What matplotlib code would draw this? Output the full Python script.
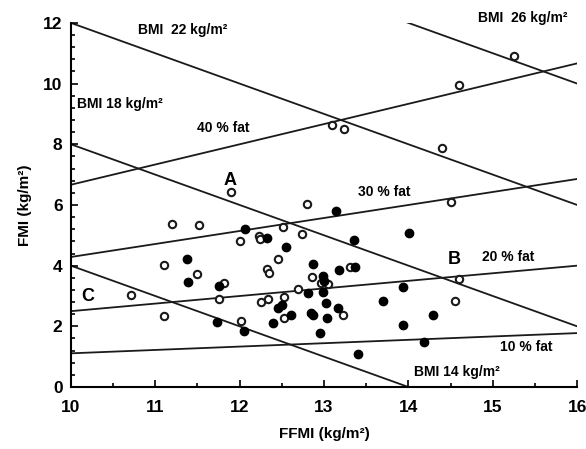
import matplotlib
matplotlib.use("Agg")
import matplotlib.pyplot as plt
import numpy as np
from matplotlib.ticker import MultipleLocator

plt.rcParams['font.family'] = ['Liberation Sans', 'DejaVu Sans']
plt.rcParams['font.weight'] = 'bold'

# Reference lines
bmi_levels = [14, 18, 22, 26]
fat_pcts = [10, 20, 30, 40]

# Open circles (FFMI, FMI)
open_ffmi = [15.25, 14.60, 14.40, 14.51, 14.60, 14.55, 13.10, 13.24, 11.90, 12.80,
             11.20, 11.52, 11.10, 11.50, 11.81, 10.71, 11.10, 11.76, 12.51, 12.74,
             12.00, 12.23, 12.24, 12.46, 12.32, 12.35, 13.31, 12.86, 12.96, 13.05,
             12.69, 12.25, 12.33, 12.52, 13.23, 12.52, 12.02]
open_fmi = [10.91, 9.96, 7.88, 6.10, 3.56, 2.84, 8.64, 8.51, 6.43, 6.03,
            5.37, 5.34, 4.02, 3.73, 3.43, 3.03, 2.34, 2.90, 5.28, 5.04,
            4.81, 4.98, 4.88, 4.22, 3.89, 3.76, 3.96, 3.63, 3.43, 3.40,
            3.23, 2.80, 2.90, 2.97, 2.37, 2.27, 2.18]

# Filled circles (FFMI, FMI)
filled_ffmi = [11.37, 11.39, 11.75, 11.73, 13.14, 12.06, 12.32, 13.36, 12.55, 12.87,
               13.18, 13.37, 12.99, 13.00, 12.81, 12.99, 14.01, 13.93, 13.70, 14.29,
               13.94, 12.46, 12.50, 12.61, 12.85, 12.87, 13.04, 13.17, 12.40, 13.02,
               12.95, 12.05, 13.40, 14.19]
filled_fmi = [4.22, 3.46, 3.33, 2.14, 5.80, 5.21, 4.91, 4.85, 4.62, 4.06,
              3.86, 3.96, 3.66, 3.49, 3.10, 3.13, 5.08, 3.30, 2.84, 2.37,
              2.04, 2.60, 2.70, 2.37, 2.44, 2.37, 2.27, 2.60, 2.11, 2.77,
              1.78, 1.85, 1.09, 1.48]

fig = plt.figure(figsize=(5.86, 4.49), dpi=100)
ax = fig.add_axes([0.121, 0.138, 0.864, 0.811])

xs = np.linspace(10, 16, 200)
for b in bmi_levels:
    ax.plot(xs, b - xs, color='#1a1a1a', lw=1.3, zorder=1)
for p in fat_pcts:
    f = p / 100.0
    ax.plot(xs, f / (1 - f) * xs, color='#1a1a1a', lw=1.3, zorder=1)

ax.plot(open_ffmi, open_fmi, 'o', ms=5.3, mfc='white', mec='#1a1a1a', mew=1.5, zorder=3)
ax.plot(filled_ffmi, filled_fmi, 'o', ms=6.0, mfc='black', mec='black', zorder=3)

ax.set_xlim(10, 16)
ax.set_ylim(0, 12)
ax.xaxis.set_major_locator(MultipleLocator(1))
ax.xaxis.set_minor_locator(MultipleLocator(0.5))
ax.yaxis.set_major_locator(MultipleLocator(2))
ax.yaxis.set_minor_locator(MultipleLocator(0.4))
ax.tick_params(which='both', direction='in', width=1.2)
ax.tick_params(which='major', length=5, labelsize=12.5)
ax.tick_params(which='minor', length=3)
ax.tick_params(axis='x', which='major', pad=9)
ax.tick_params(axis='y', which='major', pad=6)
for lab in ax.get_xticklabels() + ax.get_yticklabels():
    lab.set_fontweight('bold')
for s in ['top', 'right']:
    ax.spines[s].set_visible(False)
for s in ['left', 'bottom']:
    ax.spines[s].set_linewidth(1.5)

ax.set_xlabel('FFMI (kg/m²)', fontsize=11, fontweight='bold', labelpad=9)
ax.set_ylabel('FMI (kg/m²)', fontsize=11, fontweight='bold', labelpad=8)

tk = dict(fontsize=10, fontweight='bold', va='center', ha='left')
ax.text(10.79, 11.78, 'BMI  22 kg/m²', **tk)
ax.text(14.82, 12.15, 'BMI  26 kg/m²', clip_on=False, **tk)
ax.text(10.07, 9.33, 'BMI 18 kg/m²', **tk)
ax.text(11.5, 8.54, '40 % fat', **tk)
ax.text(13.4, 6.43, '30 % fat', **tk)
ax.text(14.87, 4.29, '20 % fat', **tk)
ax.text(15.08, 1.32, '10 % fat', **tk)
ax.text(14.07, 0.49, 'BMI 14 kg/m²', **tk)
ax.text(11.89, 6.82, 'A', fontsize=13, fontweight='bold', ha='center', va='center')
ax.text(14.54, 4.19, 'B', fontsize=13, fontweight='bold', ha='center', va='center')
ax.text(10.2, 2.97, 'C', fontsize=13, fontweight='bold', ha='center', va='center')

fig.savefig('out.png', dpi=100)
